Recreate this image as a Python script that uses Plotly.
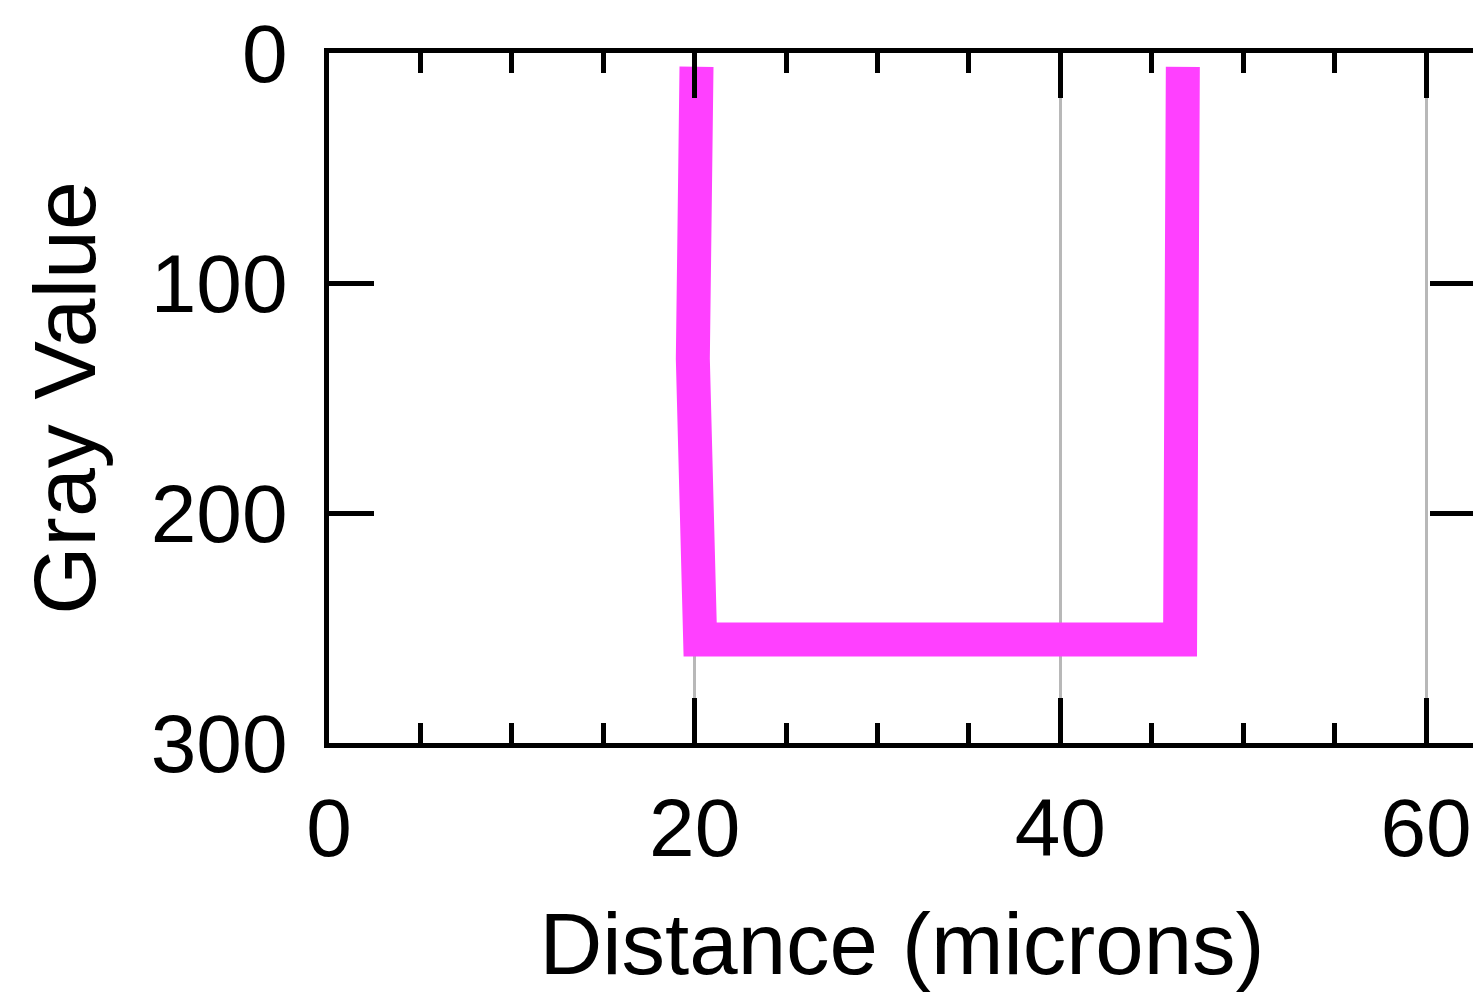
import plotly.graph_objects as go

# Profile data (Distance in microns, Gray Value)
distance = [20.1, 19.9, 20.3, 46.55, 46.7]
gray_value = [6, 133, 255, 255, 6]

x_tick_vals = [0, 20, 40, 60]
x_tick_text = ["0", "20", "40", "60"]
y_tick_vals = [0, 100, 200, 300]
y_tick_text = ["0", "100", "200", "300"]

FONT = "Liberation Sans, Arial, Helvetica, sans-serif"

fig = go.Figure()
fig.add_trace(go.Scatter(
    x=distance, y=gray_value, mode="lines",
    line=dict(color="#ff40ff", width=34),
    showlegend=False, hoverinfo="skip",
))

fig.update_layout(
    width=1473, height=989,
    margin=dict(l=320.5, r=6, t=45, b=254),
    paper_bgcolor="white", plot_bgcolor="white",
    font=dict(family=FONT, color="black"),
)

fig.update_xaxes(
    range=[0, 62.68],
    tickmode="array", tickvals=x_tick_vals, ticktext=x_tick_text,
    ticks="inside", ticklen=45, tickwidth=5, tickcolor="black",
    minor=dict(dtick=5, tick0=0, ticks="inside", ticklen=20, tickwidth=5,
               tickcolor="black", showgrid=False),
    showline=True, linewidth=5, linecolor="black", mirror="allticks",
    showgrid=True, gridcolor="#b8b8b8", gridwidth=3,
    zeroline=False, automargin=False,
    tickfont=dict(size=82, family=FONT, color="black"),
    ticklabelstandoff=10, ticklabeloverflow="allow",
    title=dict(text="Distance (microns)", font=dict(size=87, family=FONT, color="black"), standoff=42),
)

fig.update_yaxes(
    range=[300, 0],
    tickmode="array", tickvals=y_tick_vals, ticktext=y_tick_text,
    ticks="inside", ticklen=45, tickwidth=5, tickcolor="black",
    showline=True, linewidth=5, linecolor="black", mirror="allticks",
    showgrid=False, zeroline=False, automargin=False,
    tickfont=dict(size=82, family=FONT, color="black"),
    ticklabelstandoff=20, ticklabeloverflow="allow",
    title=dict(text="Gray Value", font=dict(size=88, family=FONT, color="black"), standoff=27),
)

fig.write_html("out.html")
